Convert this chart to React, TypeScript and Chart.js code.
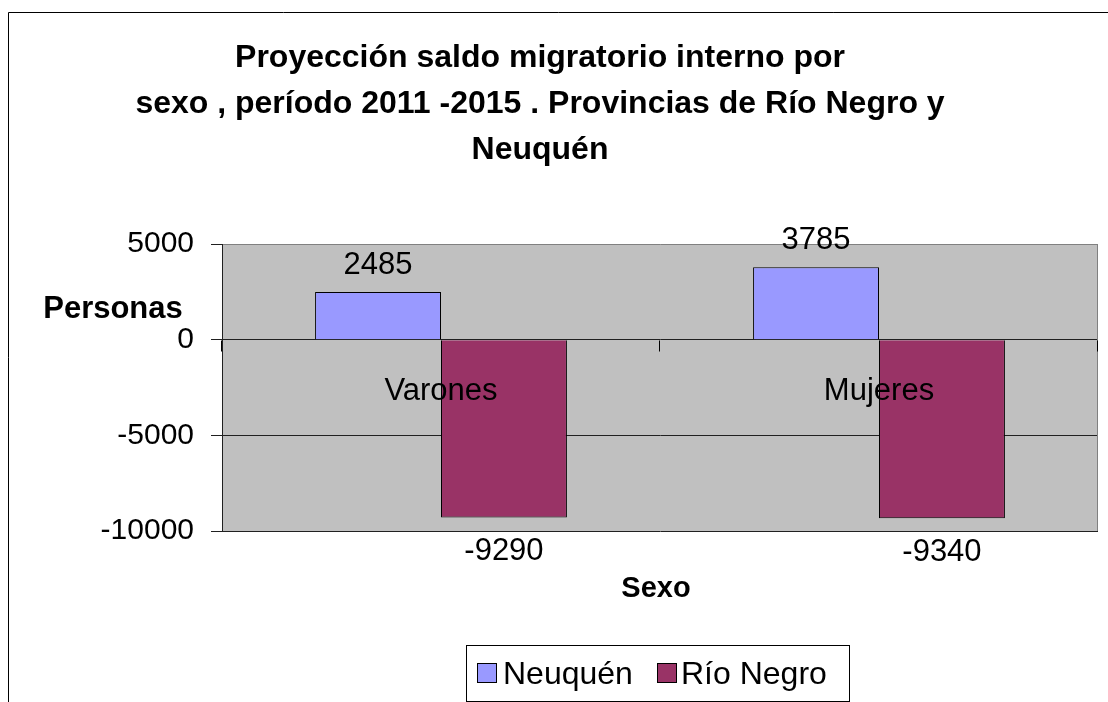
import React, { useEffect, useRef } from "react";
import { Chart, registerables } from "chart.js";
Chart.register(...registerables);

const categories = ["Varones", "Mujeres"];
const seriesLabels = ["Neuquén", "Río Negro"];
const neuquen = [2485, 3785];
const rioNegro = [-9290, -9340];
const seriesColors = ["#9999FF", "#993366"];
const yMin = -10000;
const yMax = 5000;
const yStep = 5000;
const titleLines = [
  "Proyección saldo migratorio interno por",
  "sexo , período 2011 -2015 . Provincias de Río Negro y",
  "Neuquén",
];
const yTitle = "Personas";
const xTitle = "Sexo";

const FONT = "'Liberation Sans', Arial, Helvetica, sans-serif";

const decorPlugin = {
  id: "decor",
  beforeDraw(chart: any) {
    const { ctx, chartArea: a, width, height } = chart;
    ctx.save();
    ctx.fillStyle = "#ffffff";
    ctx.fillRect(0, 0, width, height);
    // outer border
    ctx.strokeStyle = "#000";
    ctx.lineWidth = 1;
    ctx.beginPath();
    ctx.moveTo(8.5, height);
    ctx.lineTo(8.5, 12.5);
    ctx.lineTo(width, 12.5);
    ctx.stroke();
    // plot area
    ctx.fillStyle = "#C0C0C0";
    ctx.fillRect(a.left, a.top, a.right - a.left, a.bottom - a.top);
    ctx.restore();
  },
  afterDatasetsDraw(chart: any) {
    const { ctx, chartArea: a, scales } = chart;
    const xs = scales.x;
    const ys = scales.y;
    const zeroY = Math.round(ys.getPixelForValue(0)) + 0.5;
    ctx.save();
    // right border of plot area
    ctx.strokeStyle = "#808080";
    ctx.lineWidth = 1;
    ctx.beginPath();
    ctx.moveTo(Math.round(a.right) - 0.5, a.top);
    ctx.lineTo(Math.round(a.right) - 0.5, a.bottom);
    ctx.stroke();
    // category axis tick marks on the zero line
    const w = (a.right - a.left) / categories.length;
    ctx.strokeStyle = "#000";
    ctx.beginPath();
    for (let i = 0; i <= categories.length; i++) {
      const x = Math.round(a.left + i * w) - 0.5;
      ctx.moveTo(x, zeroY);
      ctx.lineTo(x, zeroY + 11);
    }
    ctx.stroke();

    // data labels
    ctx.fillStyle = "#000";
    ctx.textAlign = "center";
    ctx.textBaseline = "alphabetic";
    ctx.font = `31px ${FONT}`;
    chart.data.datasets.forEach((ds: any, di: number) => {
      const meta = chart.getDatasetMeta(di);
      meta.data.forEach((bar: any, i: number) => {
        const v = ds.data[i];
        const y = v >= 0 ? bar.y - 18 : bar.y + 43;
        ctx.fillText(String(v), bar.x, y);
      });
    });

    // category labels near zero line
    ctx.font = `31px ${FONT}`;
    categories.forEach((c, i) => {
      ctx.fillText(c, xs.getPixelForValue(i), zeroY + 59);
    });

    // title
    ctx.font = `bold 32px ${FONT}`;
    const tBase = [67, 113, 159];
    titleLines.forEach((t, i) => ctx.fillText(t, 540, tBase[i]));

    // axis titles
    ctx.font = `bold 31px ${FONT}`;
    ctx.fillText(yTitle, 113, 318);
    ctx.font = `bold 29px ${FONT}`;
    ctx.fillText(xTitle, 656, 597);

    // legend
    ctx.strokeStyle = "#000";
    ctx.fillStyle = "#fff";
    ctx.fillRect(466.5, 645.5, 383, 56);
    ctx.strokeRect(466.5, 645.5, 383, 56);
    ctx.font = `32px ${FONT}`;
    ctx.textAlign = "left";
    const items = [
      { sx: 477, tx: 503 },
      { sx: 657, tx: 681 },
    ];
    chart.data.datasets.forEach((ds: any, di: number) => {
      const it = items[di];
      ctx.fillStyle = ds.backgroundColor;
      ctx.fillRect(it.sx + 0.5, 663.5, 19, 19);
      ctx.strokeStyle = "#000";
      ctx.strokeRect(it.sx + 0.5, 663.5, 19, 19);
      ctx.fillStyle = "#000";
      ctx.fillText(ds.label, it.tx, 684);
    });
    ctx.restore();
  },
};

export default function App() {
  const ref = useRef<HTMLCanvasElement | null>(null);
  useEffect(() => {
    if (!ref.current) return;
    const chart = new Chart(ref.current, {
      type: "bar",
      data: {
        labels: categories,
        datasets: [
          {
            label: seriesLabels[0],
            data: neuquen,
            backgroundColor: seriesColors[0],
            borderColor: "#000",
            borderWidth: 1,
          },
          {
            label: seriesLabels[1],
            data: rioNegro,
            backgroundColor: seriesColors[1],
            borderColor: "#000",
            borderWidth: 1,
          },
        ],
      },
      options: {
        responsive: false,
        animation: false,
        devicePixelRatio: 1,
        layout: { padding: { left: 0, right: 10, top: 244, bottom: 171 } },
        datasets: { bar: { categoryPercentage: 0.575, barPercentage: 1 } },
        plugins: {
          legend: { display: false },
          title: { display: false },
          tooltip: { enabled: false },
        },
        scales: {
          x: {
            display: false,
            offset: true,
          },
          y: {
            min: yMin,
            max: yMax,
            afterFit: (s: any) => {
              s.width = 222;
            },
            ticks: {
              stepSize: yStep,
              padding: 17,
              color: "#000",
              font: { size: 30, family: FONT },
              callback: (v: any) => String(v),
            },
            grid: {
              color: (c: any) => (c.tick && c.tick.value === yMax ? "#808080" : "#202020"),
              tickLength: 11,
              tickColor: "#202020",
              drawTicks: true,
            },
            border: { display: true, color: "#202020" },
          },
        },
      },
      plugins: [decorPlugin],
    });
    return () => chart.destroy();
  }, []);
  return (
    <div style={{ position: "fixed", left: 0, top: 0, width: 1108, height: 702 }}>
      <canvas ref={ref} width={1108} height={702} style={{ display: "block" }} />
    </div>
  );
}
